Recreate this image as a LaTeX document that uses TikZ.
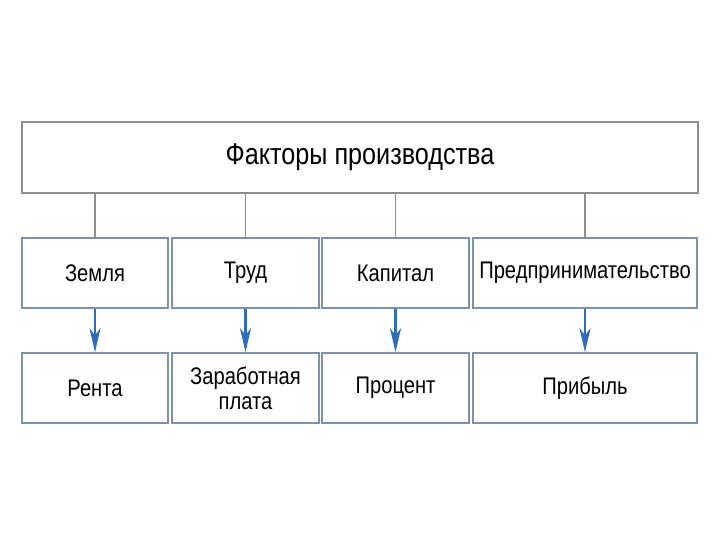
\documentclass[tikz,border=0pt]{standalone}
\usepackage{fontspec}
\setmainfont{Liberation Sans}[FakeStretch=0.84]
\usetikzlibrary{arrows.meta}
\definecolor{topframe}{HTML}{8E8E8E}
\definecolor{boxframe}{HTML}{7E91AA}
\definecolor{arrowblue}{HTML}{2E6DB8}
\tikzset{
  topbox/.style={draw=topframe, line width=1.5pt, fill=white, minimum width=676pt, minimum height=71pt, inner sep=0pt, font=\fontsize{30}{32}\selectfont},
  cellbox/.style={draw=boxframe, line width=1.5pt, fill=white, minimum height=70pt, inner sep=0pt, align=center, font=\fontsize{24}{25}\selectfont},
  link/.style={draw=topframe, line width=1.2pt},
  flow/.style={draw=arrowblue, line width=2.2pt, -{Stealth[length=24pt,width=11pt,inset=7pt]}}
}
\begin{document}
\begin{tikzpicture}[x=1pt,y=-1pt]
\useasboundingbox (0,0) rectangle (720,540);
\node[topbox] (top) at (360,157.5) {Факторы производства};
\node[cellbox, minimum width=146pt] (a1) at (95,273) {Земля};
\node[cellbox, minimum width=147pt] (a2) at (245.5,273) {Труд};
\node[cellbox, minimum width=147pt] (a3) at (395.5,273) {Капитал};
\node[cellbox, minimum width=224pt] (a4) at (585,273) {Предпринимательство};
\node[cellbox, minimum width=146pt] (b1) at (95,388) {Рента};
\node[cellbox, minimum width=147pt] (b2) at (245.5,388) {Заработная\\плата};
\node[cellbox, minimum width=147pt] (b3) at (395.5,388) {Процент};
\node[cellbox, minimum width=224pt] (b4) at (585,388) {Прибыль};
\foreach \i in {1,2,3,4} {
  \draw[link] (a\i.north) -- (a\i.north |- top.south);
  \draw[flow] (a\i.south) -- (b\i.north);
}
\end{tikzpicture}
\end{document}
